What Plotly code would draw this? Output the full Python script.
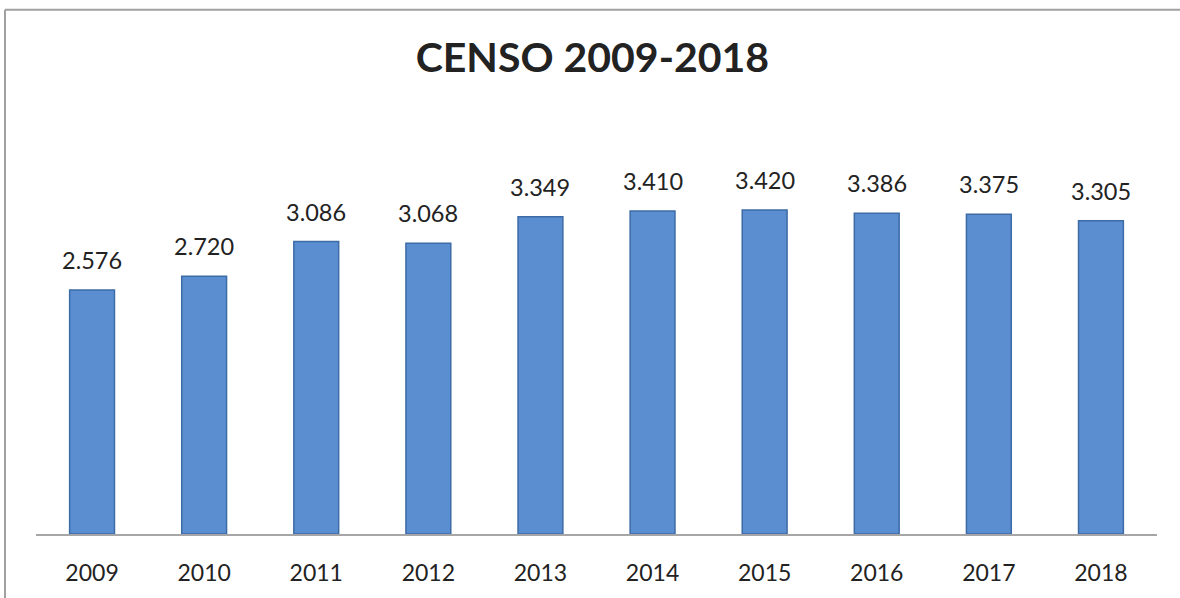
import plotly.graph_objects as go

years = ["2009", "2010", "2011", "2012", "2013", "2014", "2015", "2016", "2017", "2018"]
values = [2576, 2720, 3086, 3068, 3349, 3410, 3420, 3386, 3375, 3305]
labels = ["2.576", "2.720", "3.086", "3.068", "3.349", "3.410", "3.420", "3.386", "3.375", "3.305"]
title_text = "CENSO 2009-2018"

W, H = 1180, 598
ml, mr, mt, mb = 36, 23, 155, 62

fig = go.Figure()
fig.add_trace(go.Bar(
    x=years, y=values,
    marker=dict(color="#5A8ED0", line=dict(color="#3D6BA6", width=1.5)),
    hoverinfo="x+y",
))

for i, (v, lab) in enumerate(zip(values, labels)):
    fig.add_annotation(x=i, y=v, text=lab, showarrow=False, yanchor="bottom",
                       yshift=14, font=dict(family="Lato", size=23.5, color="#222222"))

pw = W - ml - mr
ph = H - mt - mb
x_left = (5 - ml) / pw
y_top = 1 + (mt - 9) / ph
frame = dict(color="#A0A0A0", width=2)
fig.add_shape(type="line", xref="paper", yref="paper",
              x0=x_left, x1=(W + 5 - ml) / pw, y0=y_top, y1=y_top,
              line=frame, layer="below")
fig.add_shape(type="line", xref="paper", yref="paper",
              x0=x_left, x1=x_left, y0=y_top, y1=-(H + 5 - mt - ph) / ph,
              line=frame, layer="below")

fig.update_layout(
    width=W, height=H,
    margin=dict(l=ml, r=mr, t=mt, b=mb),
    paper_bgcolor="white", plot_bgcolor="white",
    bargap=0.6,
    showlegend=False,
    title=dict(text="<b>" + title_text + "</b>", x=0.502, xanchor="center",
               y=1 - 58 / H, yanchor="middle",
               font=dict(family="Lato", size=41, color="#222222")),
    xaxis=dict(type="category", showline=True, linecolor="#A6A6A6", linewidth=1.5,
               ticks="outside", ticklen=18, tickcolor="rgba(0,0,0,0)",
               tickfont=dict(family="Lato", size=23, color="#222222"),
               showgrid=False),
    yaxis=dict(range=[0, 4000], visible=False, showgrid=False),
)

fig.write_html("out.html", config={"displayModeBar": False},
               post_script="document.body.style.margin='0';document.body.style.overflow='hidden';")
